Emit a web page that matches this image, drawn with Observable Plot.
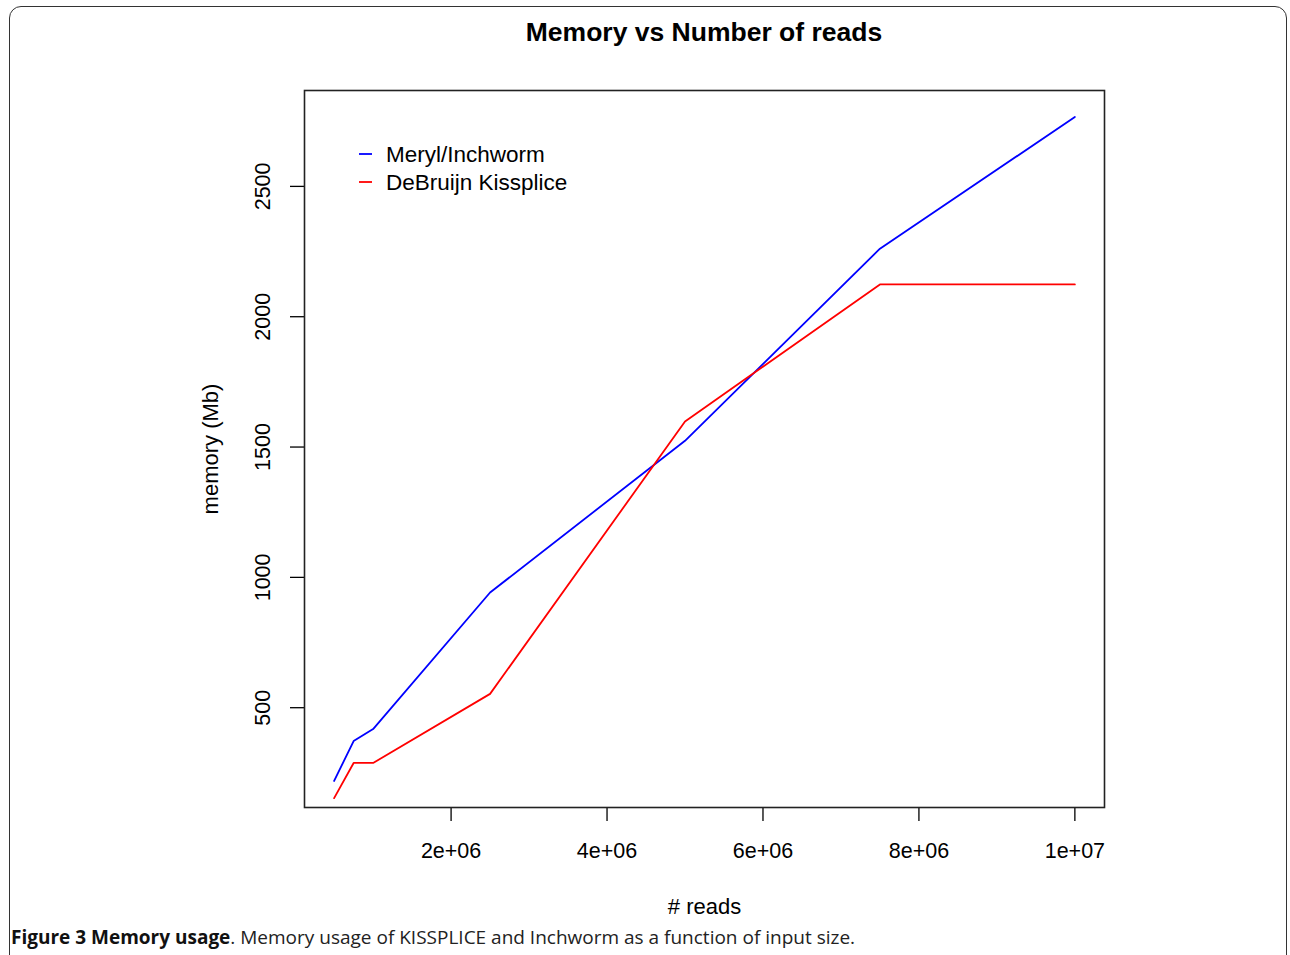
<!DOCTYPE html>
<html>
<head>
<meta charset="utf-8">
<script src="https://cdn.jsdelivr.net/npm/d3@7"></script>
<script src="https://cdn.jsdelivr.net/npm/@observablehq/plot@0.6"></script>
<style>
  html, body { margin: 0; padding: 0; background: #fff; }
  body { width: 1290px; height: 955px; position: relative; overflow: hidden; font-family: "Liberation Sans", Arial, sans-serif; }
  #border { position: absolute; left: 9px; top: 6px; width: 1278px; height: 1000px; border: 1.6px solid #333; border-radius: 12px; box-sizing: border-box; }
  #title { position: absolute; left: 304px; width: 800px; top: 17px; text-align: center; font-weight: bold; font-size: 26.5px; color: #000; }
  #chart { position: absolute; left: 0; top: 0; }
  #legend { position: absolute; left: 0; top: 0; }
  #caption { position: absolute; left: 11px; top: 924px; font-family: "Open Sans", sans-serif; font-size: 19px; color: #222; white-space: nowrap; }
  #caption b { color: #111; }
</style>
</head>
<body>
<div id="border"></div>
<div id="title">Memory vs Number of reads</div>
<div id="chart"></div>
<svg id="legend" width="1290" height="955"></svg>
<div id="caption"><b>Figure 3 Memory usage</b>. Memory usage of KISSPLICE and Inchworm as a function of input size.</div>
<script>
// ---- data ----
const reads = [500000, 750000, 1000000, 2500000, 5000000, 7500000, 10000000];
const meryl = [219, 372, 418, 942, 1524, 2261, 2766];
const debruijn = [153, 288, 288, 553, 1598, 2124, 2124];
const seriesNames = ["Meryl/Inchworm", "DeBruijn Kissplice"];
const seriesColors = ["#0000ff", "#ff0000"];
const xTicks = [2000000, 4000000, 6000000, 8000000, 10000000];
const xTickLabels = ["2e+06", "4e+06", "6e+06", "8e+06", "1e+07"];
const yTicks = [500, 1000, 1500, 2000, 2500];
const yTickLabels = ["500", "1000", "1500", "2000", "2500"];

const rows = [];
reads.forEach((r, i) => {
  rows.push({reads: r, mem: meryl[i], series: seriesNames[0]});
});
reads.forEach((r, i) => {
  rows.push({reads: r, mem: debruijn[i], series: seriesNames[1]});
});

// R-style 4% axis extension
const xr = d3.extent(reads); const xpad = (xr[1] - xr[0]) * 0.04;
const yr = d3.extent(meryl); const ypad = (yr[1] - yr[0]) * 0.04;
const xLab = new Map(xTicks.map((t, i) => [t, xTickLabels[i]]));
const yTickRows = yTicks.map((t, i) => ({v: t, label: yTickLabels[i]}));

const W = 1290, H = 955;
const chart = Plot.plot({
  width: W, height: H,
  marginLeft: 304, marginRight: 186, marginTop: 90, marginBottom: 148,
  style: {fontFamily: "'Liberation Sans', Arial, sans-serif", fontSize: "21px", color: "#000", background: "transparent"},
  x: {domain: [xr[0] - xpad, xr[1] + xpad]},
  y: {domain: [yr[0] - ypad, yr[1] + ypad]},
  color: {domain: seriesNames, range: seriesColors},
  marks: [
    Plot.axisX({ticks: xTicks, tickSize: 14, tickPadding: 21, tickFormat: d => xLab.get(d), label: null, fontSize: 21.5, strokeWidth: 1.3}),
    Plot.axisY({ticks: yTicks, tickSize: 14, tickFormat: () => "", label: null, strokeWidth: 1.3}),
    Plot.text(yTickRows, {y: "v", text: "label", frameAnchor: "left", dx: -41, rotate: -90, textAnchor: "middle", lineAnchor: "middle", fontSize: 21.5}),
    Plot.text(["# reads"], {frameAnchor: "bottom", dy: 99, text: d => d, lineAnchor: "middle", fontSize: 22}),
    Plot.text(["memory (Mb)"], {frameAnchor: "left", dx: -94, rotate: -90, text: d => d, textAnchor: "middle", lineAnchor: "middle", fontSize: 22}),
    Plot.line(rows, {x: "reads", y: "mem", z: "series", stroke: "series", strokeWidth: 1.8}),
    Plot.frame({stroke: "#222", strokeWidth: 1.6})
  ]
});
document.getElementById("chart").appendChild(chart);

// legend
const leg = d3.select("#legend");
const legY = [154, 182];
seriesNames.forEach((name, i) => {
  leg.append("line").attr("x1", 359).attr("x2", 372).attr("y1", legY[i]).attr("y2", legY[i])
    .attr("stroke", seriesColors[i]).attr("stroke-width", 1.8);
  leg.append("text").attr("x", 386).attr("y", legY[i]).attr("dy", "0.36em")
    .attr("font-family", "'Liberation Sans', Arial, sans-serif").attr("font-size", 22.5)
    .attr("fill", "#000").text(name);
});
</script>
</body>
</html>
